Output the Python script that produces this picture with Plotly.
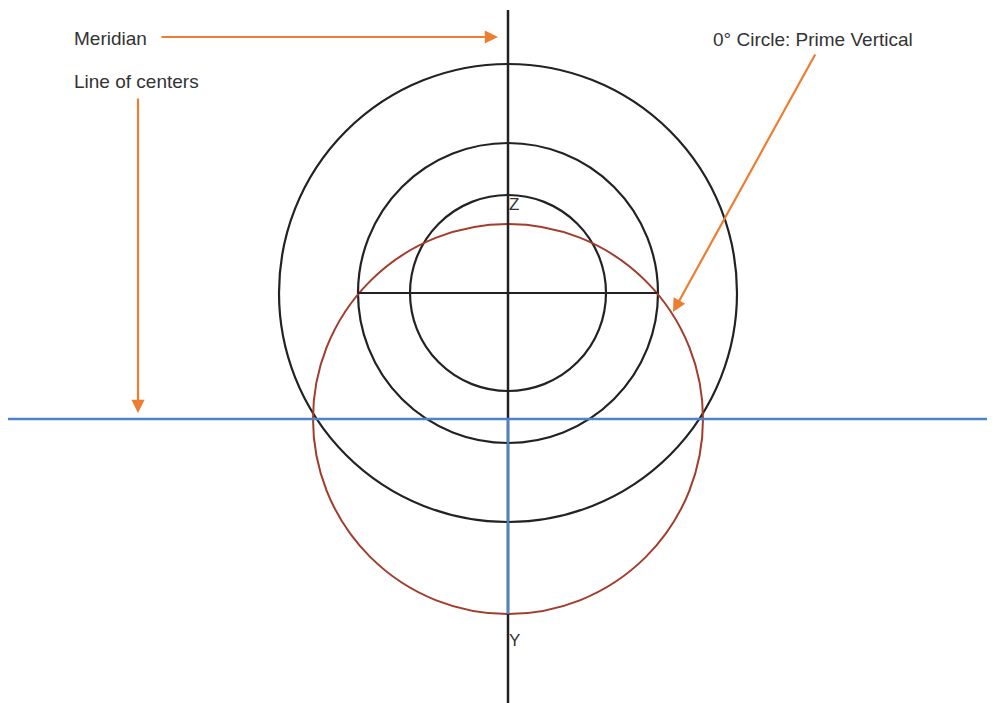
import plotly.graph_objects as go

# Geometry (in image-like units, y downwards)
black_circle_cx = [508, 508, 508]
black_circle_cy = [293, 293, 293]
black_circle_r = [229, 150, 98]

red_circle_cx = 508
red_circle_cy = 419
red_circle_r = 195

meridian_x = 508
meridian_y = [10, 703]
line_of_centers_y = 419
line_of_centers_x = [8, 995]
diameter_y = 293
diameter_x = [358, 657]
blue_vertical_y = [419, 614]

labels = ["Meridian", "Line of centers", "0° Circle: Prime Vertical", "Z", "Y"]
label_x = [72, 72, 711, 507, 507]
label_y = [38, 81, 39, 204, 640]

# arrows: (tail x, tail y, head x, head y)
arrow_tail_x = [160, 138, 816]
arrow_tail_y = [37, 97, 53]
arrow_head_x = [498, 138, 673]
arrow_head_y = [37, 413, 312]

BLACK = "#222222"
RED = "#a23c2c"
BLUE = "#4f83c9"
ORANGE = "#ec7d31"
TEXT = "#333333"

# page body has an 8px margin; compensate so units equal screen pixels
OFF = 8
W, H = 995, 703
FIG_W = W  # let the figure reach the right edge of the window

fig = go.Figure()
fig.add_trace(go.Scatter(x=[OFF, W], y=[OFF, H], mode="markers",
                         marker=dict(opacity=0), hoverinfo="skip", showlegend=False))

shapes = []
for cx, cy, r in zip(black_circle_cx, black_circle_cy, black_circle_r):
    shapes.append(dict(type="circle", xref="x", yref="y",
                       x0=cx - r, x1=cx + r, y0=cy - r, y1=cy + r,
                       line=dict(color=BLACK, width=2.2)))
shapes.append(dict(type="circle", xref="x", yref="y",
                   x0=red_circle_cx - red_circle_r, x1=red_circle_cx + red_circle_r,
                   y0=red_circle_cy - red_circle_r, y1=red_circle_cy + red_circle_r,
                   line=dict(color=RED, width=2)))
shapes.append(dict(type="line", xref="x", yref="y",
                   x0=diameter_x[0], x1=diameter_x[1], y0=diameter_y, y1=diameter_y,
                   line=dict(color=BLACK, width=2)))
shapes.append(dict(type="line", xref="x", yref="y",
                   x0=meridian_x, x1=meridian_x, y0=meridian_y[0], y1=meridian_y[1],
                   line=dict(color=BLACK, width=2.5)))
shapes.append(dict(type="line", xref="x", yref="y",
                   x0=line_of_centers_x[0], x1=line_of_centers_x[1],
                   y0=line_of_centers_y, y1=line_of_centers_y,
                   line=dict(color=BLUE, width=2.5)))
shapes.append(dict(type="line", xref="x", yref="y",
                   x0=meridian_x, x1=meridian_x, y0=blue_vertical_y[0], y1=blue_vertical_y[1],
                   line=dict(color=BLUE, width=2.5)))

annotations = []
sizes = [19, 19, 19, 17, 17]
for t, x, y, s in zip(labels, label_x, label_y, sizes):
    annotations.append(dict(text=t, x=x, y=y, xref="x", yref="y", showarrow=False,
                            xanchor="left", yanchor="middle",
                            font=dict(family="Liberation Sans, Arial", size=s, color=TEXT)))
for tx, ty, hx, hy in zip(arrow_tail_x, arrow_tail_y, arrow_head_x, arrow_head_y):
    annotations.append(dict(x=hx, y=hy, ax=tx, ay=ty, xref="x", yref="y",
                            axref="x", ayref="y", text="", showarrow=True,
                            arrowhead=2, arrowsize=1.2, arrowwidth=2.2,
                            arrowcolor=ORANGE, standoff=0, startstandoff=0))

fig.update_layout(
    width=FIG_W, height=H - OFF,
    margin=dict(l=0, r=0, t=0, b=0),
    paper_bgcolor="white", plot_bgcolor="white",
    xaxis=dict(range=[OFF, OFF + FIG_W], visible=False, fixedrange=True),
    yaxis=dict(range=[H, OFF], visible=False, fixedrange=True),
    shapes=shapes, annotations=annotations, showlegend=False,
)
fig.write_html("out.html", config={"displayModeBar": False})
